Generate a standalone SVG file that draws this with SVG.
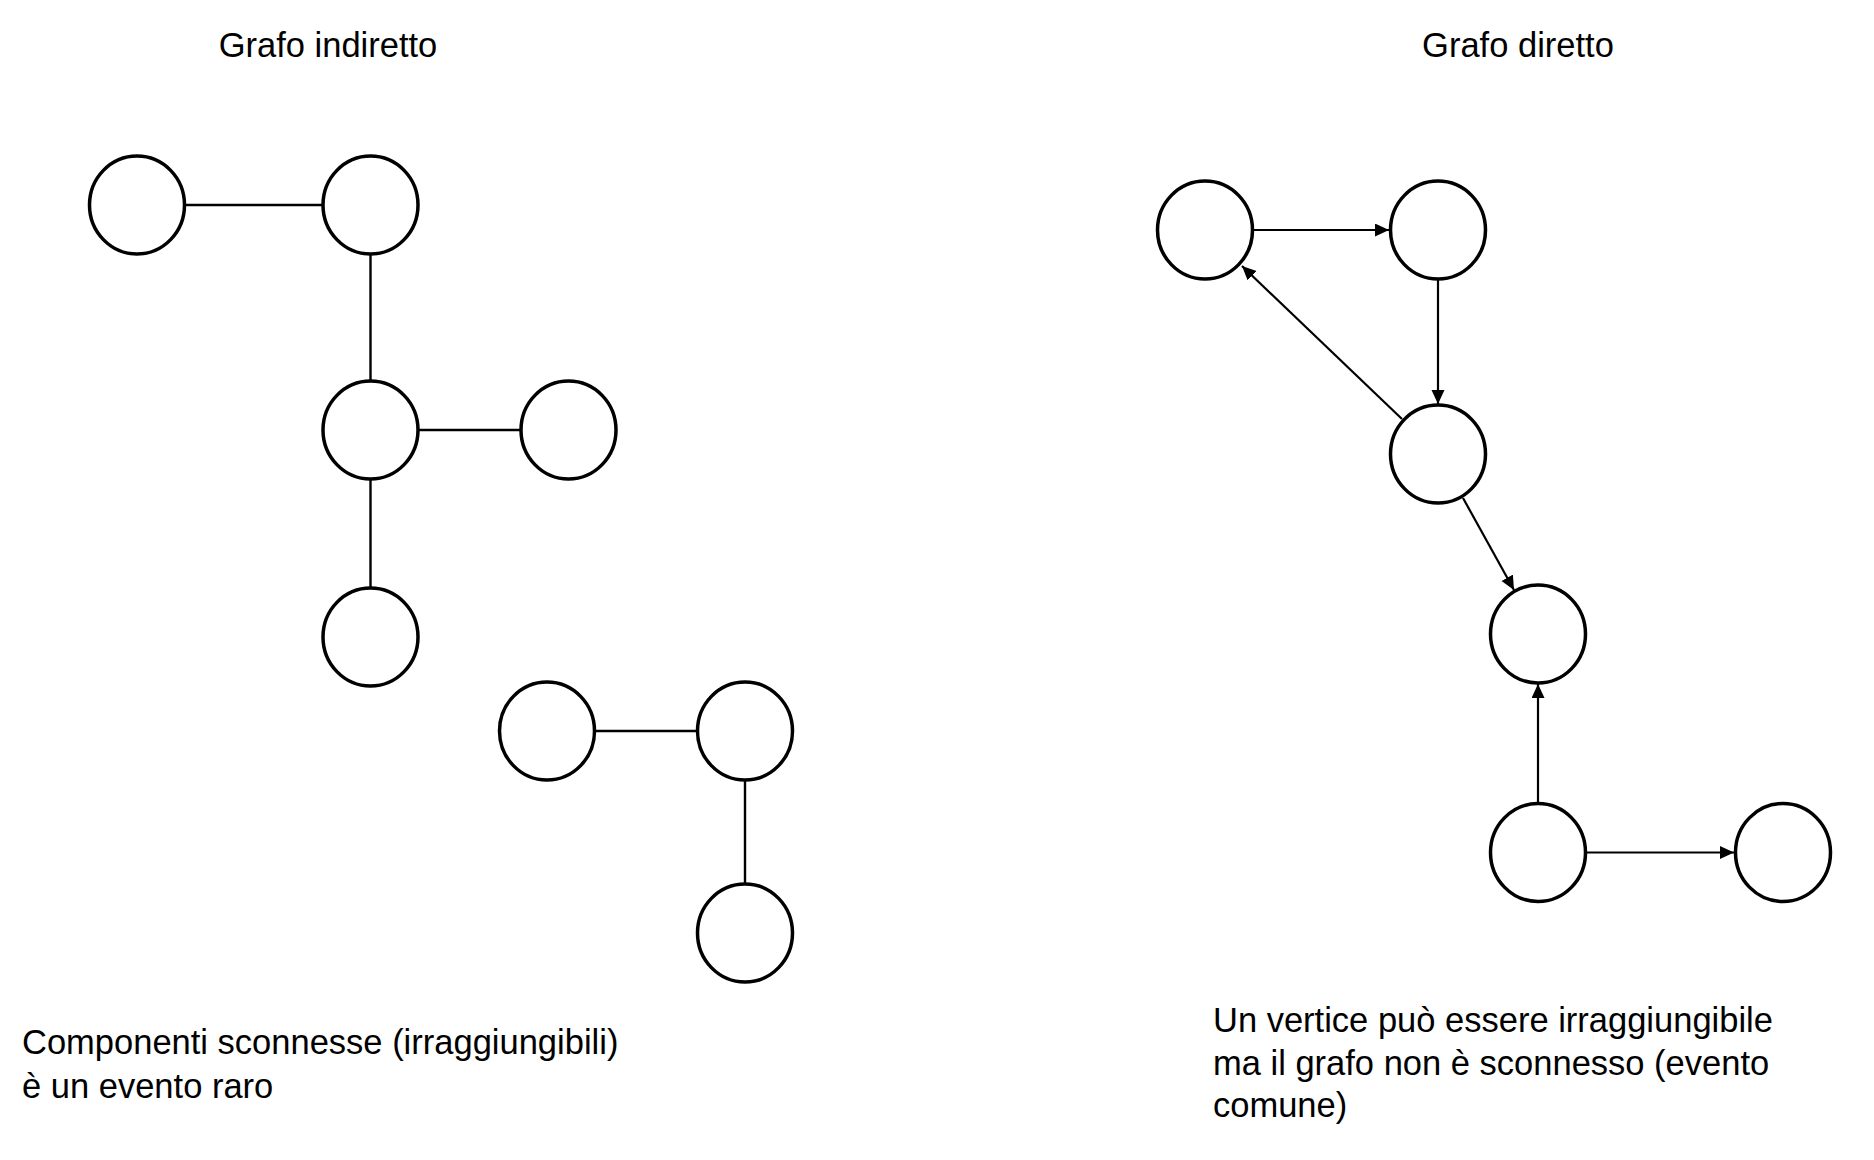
<svg xmlns="http://www.w3.org/2000/svg" width="1874" height="1160" viewBox="0 0 1874 1160">
  <style>
    .node { fill: #ffffff; stroke: #000000; stroke-width: 3.5; }
    .edge { stroke: #000000; stroke-width: 2.4; fill: none; }
    .arc { stroke: #000000; stroke-width: 2.2; fill: none; marker-end: url(#arrow); }
    .label { font-family: "Liberation Sans", Arial, sans-serif; font-size: 34.5px; fill: #000000; }
  </style>
  <defs>
    <marker id="arrow" markerUnits="userSpaceOnUse" markerWidth="15" markerHeight="14" refX="14" refY="6.5" orient="auto">
      <path d="M0,0 L14,6.5 L0,13 Z" fill="#000000"/>
    </marker>
  </defs>
  <rect x="0" y="0" width="1874" height="1160" fill="#ffffff"/>

  <text class="label" x="328" y="57" text-anchor="middle">Grafo indiretto</text>
  <text class="label" x="1518" y="57" text-anchor="middle">Grafo diretto</text>

  <g id="connectors">
    <line class="edge" x1="184" y1="205" x2="323" y2="205"/>
    <line class="edge" x1="370.5" y1="254" x2="370.5" y2="381"/>
    <line class="edge" x1="418" y1="430" x2="521" y2="430"/>
    <line class="edge" x1="370.5" y1="479" x2="370.5" y2="588"/>
    <line class="edge" x1="594" y1="731" x2="698" y2="731"/>
    <line class="edge" x1="745" y1="780" x2="745" y2="884"/>

    <line class="arc" x1="1252" y1="230" x2="1389" y2="230"/>
    <line class="arc" x1="1438" y1="279" x2="1438" y2="404"/>
    <line class="arc" x1="1402" y1="419" x2="1242" y2="266"/>
    <line class="arc" x1="1463" y1="498" x2="1514" y2="590"/>
    <line class="arc" x1="1538" y1="804" x2="1538" y2="684"/>
    <line class="arc" x1="1586" y1="852.5" x2="1734" y2="852.5"/>
  </g>

  <g id="u1"><ellipse class="node" cx="137" cy="205" rx="47.5" ry="49"/></g>
  <g id="u2"><ellipse class="node" cx="370.5" cy="205" rx="47.5" ry="49"/></g>
  <g id="u3"><ellipse class="node" cx="370.5" cy="430" rx="47.5" ry="49"/></g>
  <g id="u4"><ellipse class="node" cx="568.5" cy="430" rx="47.5" ry="49"/></g>
  <g id="u5"><ellipse class="node" cx="370.5" cy="637" rx="47.5" ry="49"/></g>
  <g id="u6"><ellipse class="node" cx="547" cy="731" rx="47.5" ry="49"/></g>
  <g id="u7"><ellipse class="node" cx="745" cy="731" rx="47.5" ry="49"/></g>
  <g id="u8"><ellipse class="node" cx="745" cy="933" rx="47.5" ry="49"/></g>

  <g id="d1"><ellipse class="node" cx="1205" cy="230" rx="47.5" ry="49"/></g>
  <g id="d2"><ellipse class="node" cx="1438" cy="230" rx="47.5" ry="49"/></g>
  <g id="d3"><ellipse class="node" cx="1438" cy="454" rx="47.5" ry="49"/></g>
  <g id="d4"><ellipse class="node" cx="1538" cy="634" rx="47.5" ry="49"/></g>
  <g id="d5"><ellipse class="node" cx="1538" cy="852.5" rx="47.5" ry="49"/></g>
  <g id="d6"><ellipse class="node" cx="1783" cy="852.5" rx="47.5" ry="49"/></g>

  <text class="label" x="22" y="1054">Componenti sconnesse (irraggiungibili)</text>
  <text class="label" x="22" y="1098">è un evento raro</text>

  <text class="label" x="1213" y="1032">Un vertice può essere irraggiungibile</text>
  <text class="label" x="1213" y="1074.5">ma il grafo non è sconnesso (evento</text>
  <text class="label" x="1213" y="1117">comune)</text>
</svg>
